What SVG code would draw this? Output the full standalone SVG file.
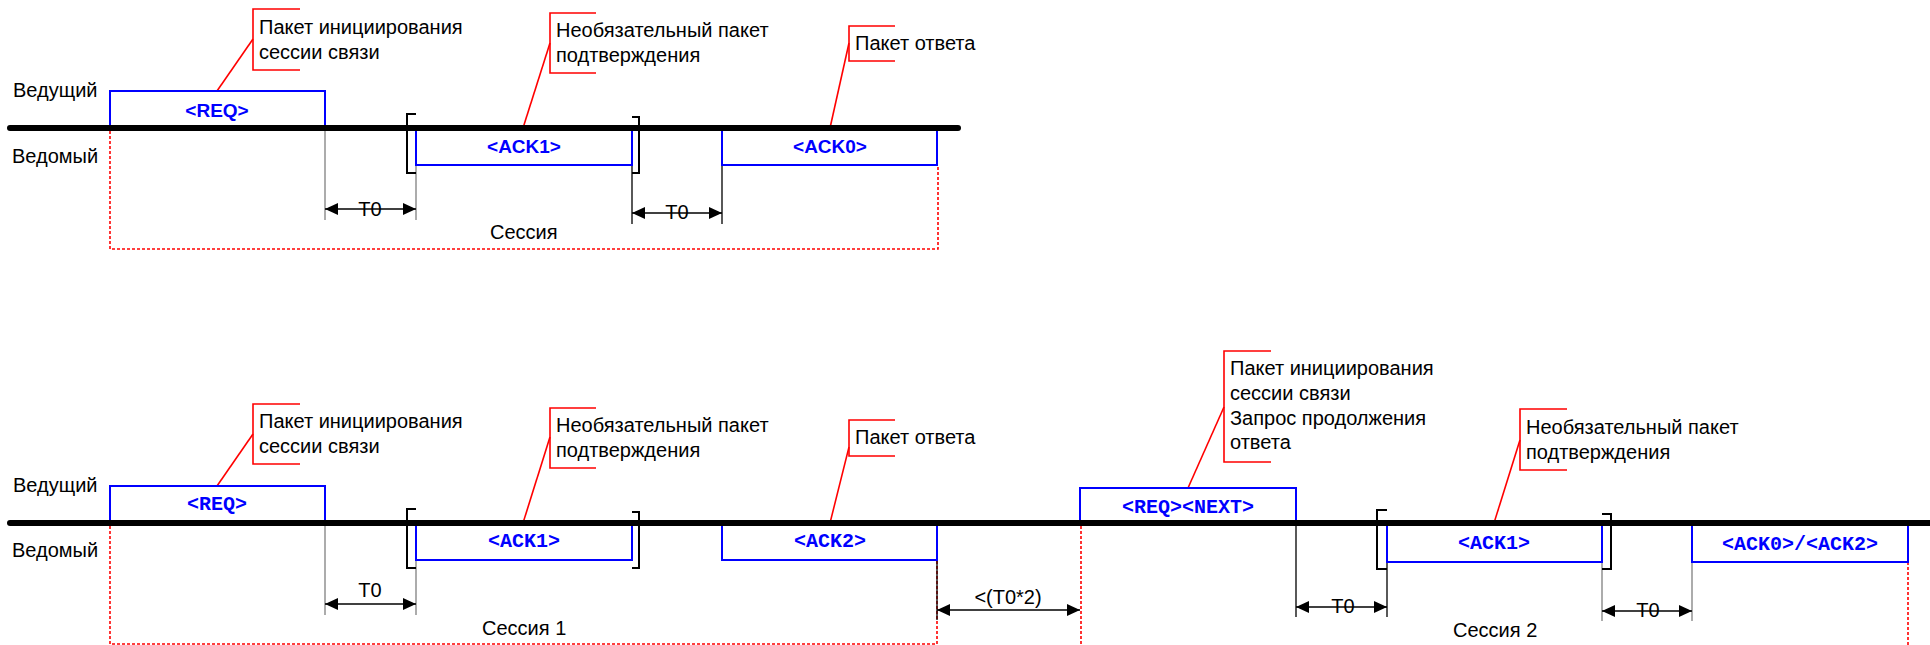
<svg xmlns="http://www.w3.org/2000/svg" width="1930" height="645" viewBox="0 0 1930 645">
<style>
.bus{stroke:#000;stroke-width:6;stroke-linecap:round;fill:none}
.pkt{stroke:#0000ff;stroke-width:2;fill:none}
.brk{stroke:#000;stroke-width:2;fill:none}
.call{stroke:#ff0000;stroke-width:1.6;fill:none}
.ses{stroke:#ff0000;stroke-width:1.6;fill:none;stroke-dasharray:3 2}
.ext{stroke:#808080;stroke-width:1.3;fill:none}
.extb{stroke:#000;stroke-width:1.3;fill:none}
.dim{stroke:#000;stroke-width:1.3;fill:none;marker-start:url(#ah);marker-end:url(#ah)}
.t{font-family:"Liberation Sans",Arial,sans-serif;font-size:20px;fill:#000}
.mid{text-anchor:middle}
.lb{font-family:"Liberation Sans",Arial,sans-serif;font-size:19px;font-weight:bold;fill:#0000ff;text-anchor:middle}
.lm{font-family:"Liberation Mono","Courier New",monospace;font-size:20px;font-weight:bold;fill:#0000ff;text-anchor:middle}
</style>
<defs>
<marker id="ah" viewBox="0 0 13 12" refX="13" refY="6" markerWidth="13" markerHeight="12" markerUnits="userSpaceOnUse" orient="auto-start-reverse">
<path d="M0,0 L13,6 L0,12 z" fill="#000"/>
</marker>
</defs>
<rect width="1930" height="645" fill="#fff"/>

<!-- ===== TOP DIAGRAM ===== -->
<g id="top-labels">
<text class="t" x="13" y="97">Ведущий</text>
<text class="t" x="12" y="163">Ведомый</text>
<text class="t" x="490" y="239">Сессия</text>
</g>
<g id="top-connectors">
<path class="ses" d="M110,131 V249 H938 V165"/>
<path class="ext" d="M325,128 V220 M416,165 V220"/>
<path class="extb" d="M632,165 V224 M722,128 V224"/>
<path class="dim" d="M325,209 H416"/>
<path class="dim" d="M632,213 H722"/>
<path class="call" d="M217,91 L253,39"/>
<path class="call" d="M523,128 L550,43"/>
<path class="call" d="M830,128 L849,43"/>
</g>
<g id="top-T0-1"><text class="t mid" x="370" y="216">T0</text></g>
<g id="top-T0-2"><text class="t mid" x="677" y="219">T0</text></g>
<g id="top-req">
<path class="pkt" d="M110,128 V91 H325 V128"/>
<text class="lb" x="217" y="117">&lt;REQ&gt;</text>
</g>
<g id="top-ack1">
<path class="pkt" d="M416,128 V165 H632 V128"/>
<path class="brk" d="M416,114 H407 V173 H416 M632,117 H639 V173 H632"/>
<text class="lb" x="524" y="153">&lt;ACK1&gt;</text>
</g>
<g id="top-ack0">
<path class="pkt" d="M722,128 V165 H937 V128"/>
<text class="lb" x="830" y="153">&lt;ACK0&gt;</text>
</g>
<g id="top-bus"><path class="bus" d="M10,128 H958"/></g>
<g id="top-note-req">
<path class="call" d="M300,9 H253 V70 H300"/>
<text class="t" x="259" y="34">Пакет инициирования</text>
<text class="t" x="259" y="59">сессии связи</text>
</g>
<g id="top-note-ack1">
<path class="call" d="M596,13 H550 V73 H596"/>
<text class="t" x="556" y="37">Необязательный пакет</text>
<text class="t" x="556" y="62">подтверждения</text>
</g>
<g id="top-note-ack0">
<path class="call" d="M895,26 H849 V61 H895"/>
<text class="t" x="855" y="50">Пакет ответа</text>
</g>

<!-- ===== BOTTOM DIAGRAM ===== -->
<g id="bot-labels">
<text class="t" x="13" y="492">Ведущий</text>
<text class="t" x="12" y="557">Ведомый</text>
<text class="t" x="482" y="635">Сессия 1</text>
<text class="t" x="1453" y="637">Сессия 2</text>
</g>
<g id="bot-connectors">
<path class="ses" d="M110,526 V644 H937 V560"/>
<path class="ses" d="M1081,526 V652 M1908,562 V652"/>
<path class="ext" d="M325,523 V615 M416,560 V615 M1602,562 V621 M1692,523 V621"/>
<path class="extb" d="M937,560 V620 M1296,523 V617 M1387,562 V617"/>
<path class="dim" d="M325,604 H416"/>
<path class="dim" d="M937,610 H1080"/>
<path class="dim" d="M1296,607 H1387"/>
<path class="dim" d="M1602,611 H1692"/>
<path class="call" d="M217,486 L253,434"/>
<path class="call" d="M523,523 L550,437"/>
<path class="call" d="M830,523 L849,447"/>
<path class="call" d="M1188,488 L1224,407"/>
<path class="call" d="M1494,523 L1520,440"/>
</g>
<g id="bot-T0-1"><text class="t mid" x="370" y="597">T0</text></g>
<g id="bot-T0x2"><text class="t mid" x="1008" y="604">&lt;(T0*2)</text></g>
<g id="bot-T0-2"><text class="t mid" x="1343" y="613">T0</text></g>
<g id="bot-T0-3"><text class="t mid" x="1648" y="617">T0</text></g>
<g id="bot-req">
<path class="pkt" d="M110,523 V486 H325 V523"/>
<text class="lm" x="217" y="510">&lt;REQ&gt;</text>
</g>
<g id="bot-ack1">
<path class="pkt" d="M416,523 V560 H632 V523"/>
<path class="brk" d="M416,509 H407 V568 H416 M632,512 H639 V568 H632"/>
<text class="lm" x="524" y="547">&lt;ACK1&gt;</text>
</g>
<g id="bot-ack2">
<path class="pkt" d="M722,523 V560 H937 V523"/>
<text class="lm" x="830" y="547">&lt;ACK2&gt;</text>
</g>
<g id="bot-reqnext">
<path class="pkt" d="M1080,523 V488 H1296 V523"/>
<text class="lm" x="1188" y="513">&lt;REQ&gt;&lt;NEXT&gt;</text>
</g>
<g id="bot-ack1b">
<path class="pkt" d="M1387,523 V562 H1602 V523"/>
<path class="brk" d="M1387,510 H1377 V569 H1387 M1602,514 H1611 V569 H1602"/>
<text class="lm" x="1494" y="549">&lt;ACK1&gt;</text>
</g>
<g id="bot-ack02">
<path class="pkt" d="M1692,523 V562 H1908 V523"/>
<text class="lm" x="1800" y="550">&lt;ACK0&gt;/&lt;ACK2&gt;</text>
</g>
<g id="bot-bus"><path class="bus" d="M10,523 H1933"/></g>
<g id="bot-note-req">
<path class="call" d="M300,404 H253 V464 H300"/>
<text class="t" x="259" y="428">Пакет инициирования</text>
<text class="t" x="259" y="453">сессии связи</text>
</g>
<g id="bot-note-ack1">
<path class="call" d="M596,408 H550 V468 H596"/>
<text class="t" x="556" y="432">Необязательный пакет</text>
<text class="t" x="556" y="457">подтверждения</text>
</g>
<g id="bot-note-ack2">
<path class="call" d="M895,420 H849 V456 H895"/>
<text class="t" x="855" y="444">Пакет ответа</text>
</g>
<g id="bot-note-reqnext">
<path class="call" d="M1271,351 H1224 V462 H1271"/>
<text class="t" x="1230" y="375">Пакет инициирования</text>
<text class="t" x="1230" y="400">сессии связи</text>
<text class="t" x="1230" y="425">Запрос продолжения</text>
<text class="t" x="1230" y="449">ответа</text>
</g>
<g id="bot-note-ack1b">
<path class="call" d="M1567,409 H1520 V470 H1567"/>
<text class="t" x="1526" y="434">Необязательный пакет</text>
<text class="t" x="1526" y="459">подтверждения</text>
</g>
</svg>
